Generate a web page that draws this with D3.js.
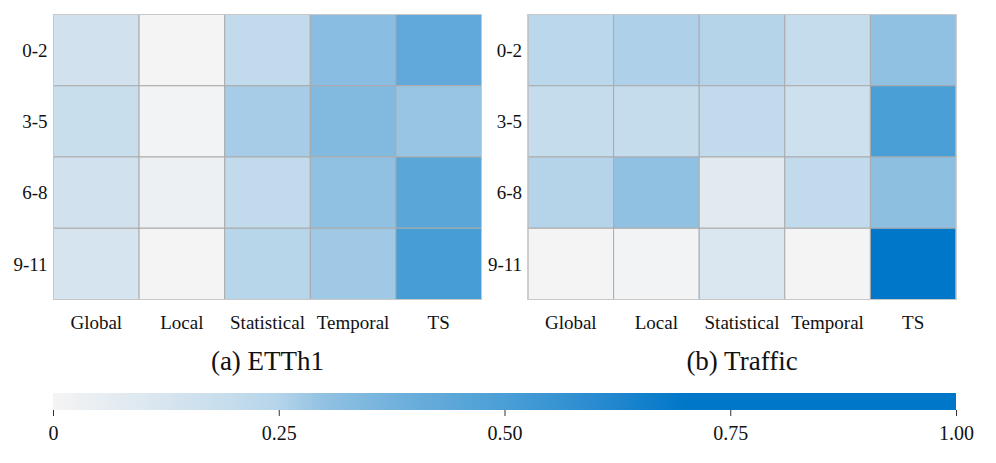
<!DOCTYPE html>
<html>
<head>
<meta charset="utf-8">
<script src="https://cdn.jsdelivr.net/npm/d3@7"></script>
<style>
  body { margin: 0; background: #fff; }
  text { font-family: "Liberation Serif", "Times New Roman", serif; fill: #111; }
</style>
</head>
<body>
<script>
// data
var features = ["Global", "Local", "Statistical", "Temporal", "TS"];
var layers = ["0-2", "3-5", "6-8", "9-11"];
var etth1 = [
  [0.15, 0.00, 0.21, 0.32, 0.43],
  [0.18, 0.01, 0.27, 0.34, 0.29],
  [0.15, 0.03, 0.21, 0.30, 0.45],
  [0.13, 0.00, 0.24, 0.28, 0.51]
];
var traffic = [
  [0.23, 0.26, 0.25, 0.20, 0.30],
  [0.20, 0.20, 0.21, 0.17, 0.50],
  [0.25, 0.30, 0.08, 0.21, 0.31],
  [0.00, 0.01, 0.11, 0.00, 0.82]
];
var titles = ["(a) ETTh1", "(b) Traffic"];
var cbTicks = [0, 0.25, 0.5, 0.75, 1.0];
var cbTickLabels = ["0", "0.25", "0.50", "0.75", "1.00"];

var W = 996, H = 463;

var color = d3.scaleLinear()
  .domain([0, 0.1, 0.2, 0.25, 0.3, 0.4, 0.5, 0.6, 0.7, 1])
  .range(["#f4f4f4", "#dde8f0", "#c4dcec", "#b5d4ea", "#91c1e2", "#69addb",
          "#4a9fd6", "#2a8bd0", "#0077c8", "#0077c8"])
  .clamp(true);

var svg = d3.select("body").append("svg")
  .attr("width", W)
  .attr("height", H);

var panels = [
  { data: etth1, left: 53.5 },
  { data: traffic, left: 528 }
];
var pw = 428, ph = 285, panelTop = 14.5;

panels.forEach(function (p, k) {
  var x = d3.scaleBand().domain(features).range([0, pw]);
  var y = d3.scaleBand().domain(layers).range([0, ph]);

  var g = svg.append("g")
    .attr("transform", "translate(" + p.left + "," + panelTop + ")");

  var cells = [];
  p.data.forEach(function (row, i) {
    row.forEach(function (v, j) {
      cells.push({ r: layers[i], c: features[j], v: v });
    });
  });

  g.selectAll("rect.cell")
    .data(cells)
    .enter().append("rect")
    .attr("class", "cell")
    .attr("x", function (d) { return x(d.c); })
    .attr("y", function (d) { return y(d.r); })
    .attr("width", x.bandwidth())
    .attr("height", y.bandwidth())
    .attr("fill", function (d) { return color(d.v); })
    .attr("stroke", "#ababab")
    .attr("stroke-width", 1);

  // outer frame
  g.append("rect")
    .attr("width", pw).attr("height", ph)
    .attr("fill", "none")
    .attr("stroke", "#c8c8c8")
    .attr("stroke-width", 1);

  // row labels
  g.selectAll("text.ylab")
    .data(layers)
    .enter().append("text")
    .attr("class", "ylab")
    .attr("x", -6)
    .attr("y", function (d) { return y(d) + y.bandwidth() / 2; })
    .attr("dy", "0.35em")
    .attr("text-anchor", "end")
    .style("font-size", "19px")
    .text(function (d) { return d; });

  // column labels
  g.selectAll("text.xlab")
    .data(features)
    .enter().append("text")
    .attr("class", "xlab")
    .attr("x", function (d) { return x(d) + x.bandwidth() / 2; })
    .attr("y", ph + 29)
    .attr("text-anchor", "middle")
    .style("font-size", "19px")
    .text(function (d) { return d; });

  g.append("text")
    .attr("x", pw / 2)
    .attr("y", ph + 70)
    .attr("text-anchor", "middle")
    .style("font-size", "27px")
    .text(titles[k]);
});

// colorbar
var cbx = d3.scaleLinear().domain([0, 1]).range([53, 956]);
var cbTop = 393, cbH = 17;

var grad = svg.append("defs").append("linearGradient")
  .attr("id", "cbgrad")
  .attr("x1", "0%").attr("x2", "100%");
grad.selectAll("stop")
  .data(color.domain())
  .enter().append("stop")
  .attr("offset", function (d) { return (d * 100) + "%"; })
  .attr("stop-color", function (d) { return color(d); });

svg.append("rect")
  .attr("x", cbx(0))
  .attr("y", cbTop)
  .attr("width", cbx(1) - cbx(0))
  .attr("height", cbH)
  .attr("fill", "url(#cbgrad)");

var axis = d3.axisBottom(cbx)
  .tickValues(cbTicks)
  .tickFormat(function (d, i) { return cbTickLabels[i]; })
  .tickSize(6)
  .tickPadding(10);

var ax = svg.append("g")
  .attr("transform", "translate(0," + (cbTop + cbH) + ")")
  .call(axis);
ax.select(".domain").remove();
ax.selectAll(".tick line").attr("stroke", "#333");
ax.selectAll(".tick text")
  .style("font-family", "'Liberation Serif', 'Times New Roman', serif")
  .style("font-size", "20px")
  .attr("fill", "#111");
</script>
</body>
</html>
